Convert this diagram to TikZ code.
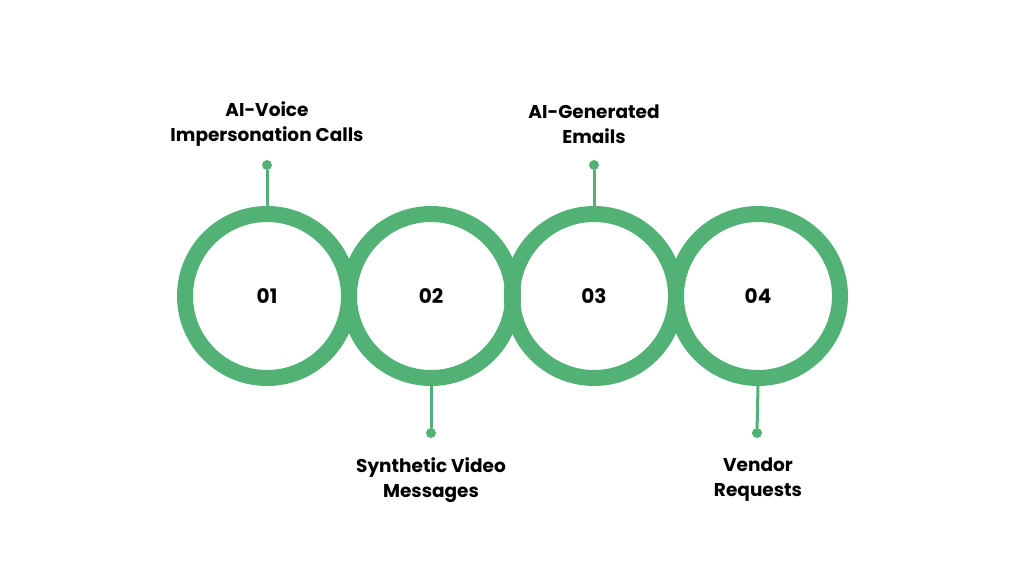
\documentclass[tikz,border=0pt]{standalone}
\usepackage{fontspec}
\setmainfont{Poppins}
\definecolor{gr}{HTML}{52B175}
\begin{document}
\begin{tikzpicture}[x=1pt,y=-1pt,
 ring/.style={draw=gr,line width=16pt,circle,minimum size=164pt,inner sep=0pt},
 num/.style={font=\fontsize{20}{24}\selectfont\bfseries},
 lab/.style={font=\fontsize{18.5}{25}\selectfont\bfseries,align=center},
 dot/.style={circle,fill=gr,minimum size=10pt,inner sep=0pt},
 conn/.style={draw=gr,line width=3pt}]
\useasboundingbox (0,0) rectangle (1024,576);
\foreach \i/\x in {1/267,2/431,3/594,4/758}{
 \node[ring] (c\i) at (\x,296) {};
 \node[num] (n\i) at (\x,296) {0\i};
}
\node[dot] (d1) at (267,165) {};
\node[dot] (d2) at (431,433) {};
\node[dot] (d3) at (594,165) {};
\node[dot] (d4) at (757,433) {};
\draw[conn] (d1) -- (c1.north);
\draw[conn] (d3) -- (c3.north);
\draw[conn] (d2) -- (c2.south);
\draw[conn] (d4) -- (c4.south);
\node[lab] (l1) at (267,124) {AI-Voice\\Impersonation Calls};
\node[lab] (l3) at (594,124) {AI-Generated\\Emails};
\node[lab] (l2) at (431,480) {Synthetic Video\\Messages};
\node[lab] (l4) at (758,480) {Vendor\\Requests};
\end{tikzpicture}
\end{document}
